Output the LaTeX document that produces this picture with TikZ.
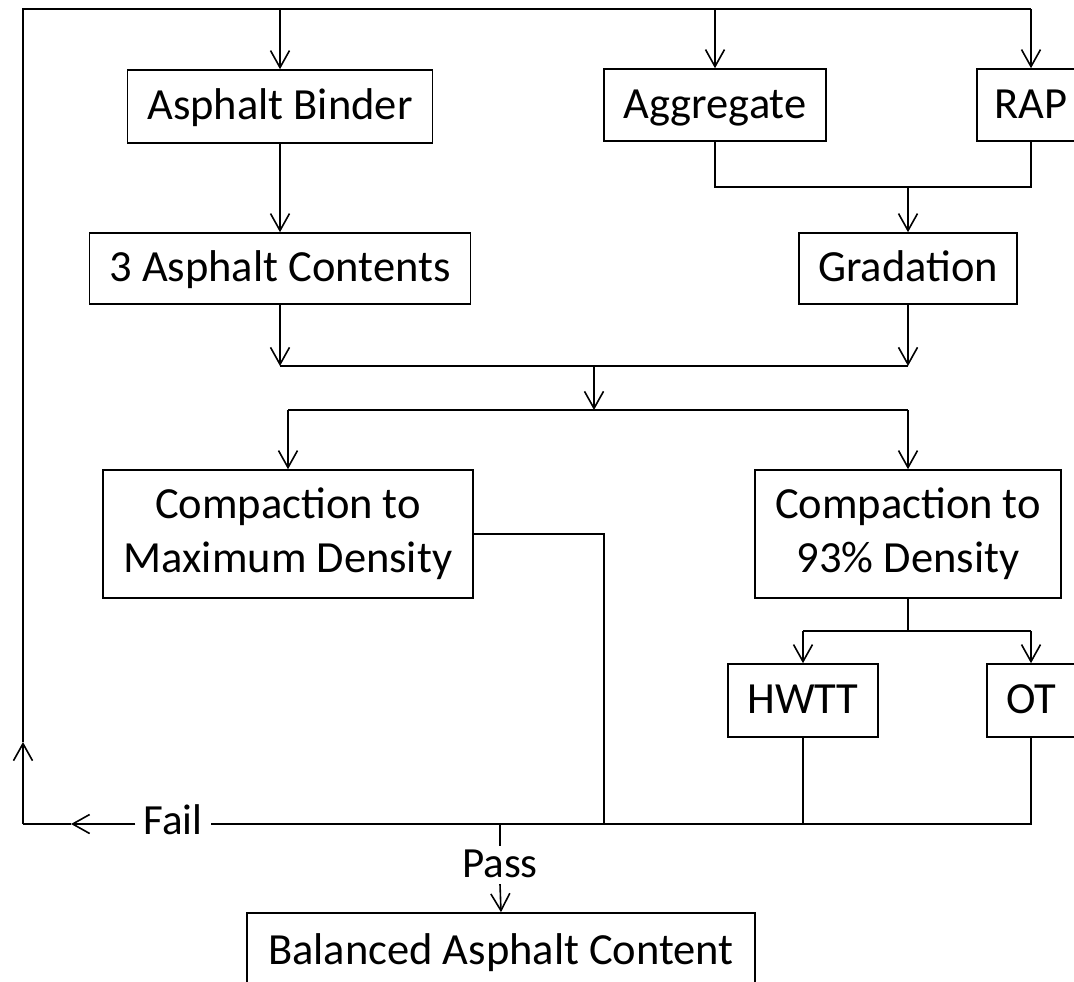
\documentclass[tikz,border=0pt]{standalone}
\usepackage{fontspec}
\setmainfont{Carlito}
\usetikzlibrary{arrows.meta}
\begin{document}
\begin{tikzpicture}[x=1pt,y=-1pt,
  box/.style={draw, line width=1.6pt, inner sep=0pt, font=\fontsize{44.5}{54}\selectfont, align=center},
  onebox/.style={box, text height=37.8pt, text depth=11pt},
  line/.style={line width=1.6pt},
  arr/.style={line width=1.6pt, -{Straight Barb[length=17pt,width=19pt,line width=1.6pt]}},
  lbl/.style={fill=white, inner xsep=8pt, inner ysep=2pt, text height=29pt, text depth=5pt, font=\fontsize{43}{53}\selectfont}]
\useasboundingbox (0,0) rectangle (1074,982);
\clip (0,0) rectangle (1074,982);
% boxes
\node[onebox, minimum width=305pt, minimum height=73pt] (binder) at (280,106.5) {Asphalt Binder};
\node[onebox, minimum width=381pt, minimum height=71pt] (contents) at (280,268.5) {3 Asphalt Contents};
\node[onebox, minimum width=222pt, minimum height=72pt] (aggregate) at (715,105) {Aggregate};
\node[onebox, minimum width=108pt, minimum height=72pt] (rap) at (1031,105) {RAP};
\node[onebox, minimum width=218pt, minimum height=71pt] (gradation) at (908,268.5) {Gradation};
\node[box, minimum width=370pt, minimum height=128pt] (cmax) at (288,534) {Compaction to\\Maximum Density};
\node[box, minimum width=306pt, minimum height=128pt] (c93) at (908,534) {Compaction to\\93\% Density};
\node[onebox, minimum width=150pt, minimum height=73pt] (hwtt) at (803,700.5) {HWTT};
\node[onebox, minimum width=88pt, minimum height=73pt] (ot) at (1031,700.5) {OT};
\node[onebox, minimum width=508pt, minimum height=76pt] (balanced) at (501,951) {Balanced Asphalt Content};
% coordinates
\coordinate (tl) at (23,9);
\coordinate (tr) at (1031,9);
\coordinate (up) at (23,742);
\coordinate (fl) at (23,824);
\coordinate (fa) at (71,824);
\coordinate (g1) at (908,187);
\coordinate (b1) at (594,366);
\coordinate (b2) at (594,410);
\coordinate (s93) at (908,631);
\coordinate (cm1) at (604,824);
\coordinate (bus) at (1031,824);
\coordinate (p1) at (500,824);
% labels
\node[lbl] (fail) at (173,822) {Fail};
\node[lbl] (pass) at (500,865) {Pass};
% top feedback line
\draw[arr] (fl) -- (up);
\draw[line] (up) -- (tl) -- (tr);
\draw[arr] (binder.north |- tl) -- (binder.north);
\draw[arr] (aggregate.north |- tl) -- (aggregate.north);
\draw[arr] (tr) -- (rap.north);
% inputs
\draw[arr] (binder.south) -- (contents.north);
\draw[line] (aggregate.south) |- (g1) -| (rap.south);
\draw[arr] (g1) -- (gradation.north);
% merge
\draw[arr] (contents.south) -- (contents.south |- b1);
\draw[arr] (gradation.south) -- (gradation.south |- b1);
\draw[line] (contents.south |- b1) -- (gradation.south |- b1);
\draw[arr] (b1) -- (b2);
\draw[line] (cmax.north |- b2) -- (c93.north |- b2);
\draw[arr] (cmax.north |- b2) -- (cmax.north);
\draw[arr] (c93.north |- b2) -- (c93.north);
% tests
\draw[line] (c93.south) -- (s93);
\draw[line] (hwtt.north |- s93) -- (ot.north |- s93);
\draw[arr] (hwtt.north |- s93) -- (hwtt.north);
\draw[arr] (ot.north |- s93) -- (ot.north);
% results bus
\draw[line] (cmax.east) -| (cm1);
\draw[line] (hwtt.south) -- (hwtt.south |- fl);
\draw[line] (ot.south) -- (bus) -- (fail.east |- bus);
\draw[arr] (fail.west |- fl) -- (fa);
\draw[line] (fa) -- (fl);
% pass
\draw[line] (p1) -- (pass.north);
\draw[arr] (pass.south) -- (balanced.north);
\end{tikzpicture}
\end{document}
